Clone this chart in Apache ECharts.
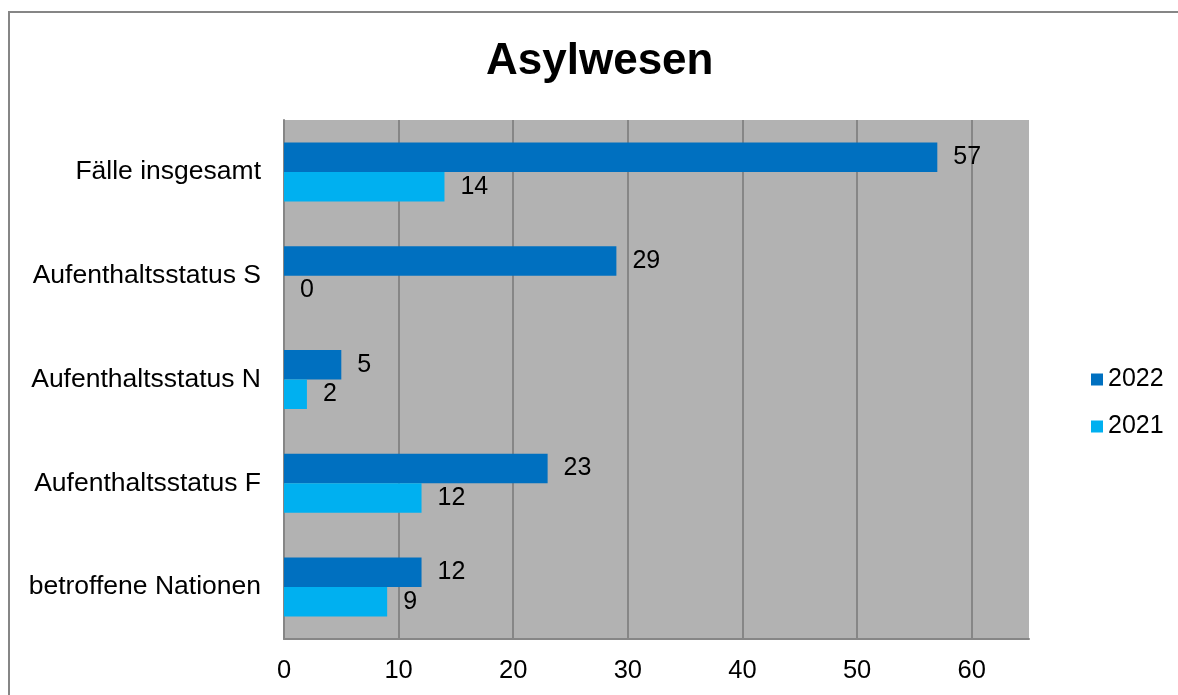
<!DOCTYPE html>
<html>
<head>
<meta charset="utf-8">
<script src="https://cdn.jsdelivr.net/npm/echarts@6/dist/echarts.min.js"></script>
<style>
  html, body { margin: 0; padding: 0; background: #fff; }
  #chart { width: 1178px; height: 695px; }
</style>
</head>
<body>
<div id="chart"></div>
<script>
// Categories, listed top to bottom
const categories = [
  'Fälle insgesamt',
  'Aufenthaltsstatus S',
  'Aufenthaltsstatus N',
  'Aufenthaltsstatus F',
  'betroffene Nationen'
];
const seriesNames = ['2022', '2021'];
const values2022 = [57, 29, 5, 23, 12];
const values2021 = [14, 0, 2, 12, 9];
const xTicks = { min: 0, max: 65, interval: 10 };

const FONT = '"Liberation Sans", Arial, sans-serif';
const colors = ['#0070c0', '#00b0f0'];

const chart = echarts.init(document.getElementById('chart'), null, { renderer: 'canvas' });

function barSeries(name, data, color) {
  return {
    name: name,
    type: 'bar',
    data: data,
    barWidth: 29.5,
    barGap: '0%',
    itemStyle: { color: color },
    label: {
      show: true,
      position: 'right',
      distance: 16,
      color: '#000',
      fontFamily: FONT,
      fontSize: 25
    },
    emphasis: { disabled: true },
    animation: false
  };
}

chart.setOption({
  animation: false,
  backgroundColor: '#fff',
  textStyle: { fontFamily: FONT },
  title: {
    text: 'Asylwesen',
    left: 481,
    top: 35,
    textStyle: { fontFamily: FONT, fontSize: 44, fontWeight: 'bold', color: '#000' }
  },
  graphic: [{
    type: 'rect',
    shape: { x: 9, y: 12, width: 1200, height: 720 },
    style: { fill: 'none', stroke: '#868686', lineWidth: 2 },
    silent: true,
    z: -1
  }],
  legend: {
    orient: 'vertical',
    left: 1086,
    top: 362,
    itemWidth: 12,
    itemHeight: 12,
    itemGap: 22,
    icon: 'rect',
    selectedMode: false,
    data: seriesNames,
    textStyle: { fontFamily: FONT, fontSize: 25, color: '#000', padding: [0, 0, 0, 0] }
  },
  grid: {
    left: 284,
    top: 120,
    right: 149,
    bottom: 56,
    show: true,
    backgroundColor: '#b2b2b2',
    borderWidth: 0,
    containLabel: false
  },
  xAxis: {
    type: 'value',
    min: xTicks.min,
    max: xTicks.max,
    interval: xTicks.interval,
    axisLine: { show: true, lineStyle: { color: '#868686', width: 2 } },
    axisTick: { show: false },
    axisLabel: {
      color: '#000',
      fontFamily: FONT,
      fontSize: 25.5,
      margin: 19,
      showMaxLabel: false
    },
    splitLine: {
      show: true,
      showMinLine: false,
      showMaxLine: false,
      lineStyle: { color: '#868686', width: 2 }
    }
  },
  yAxis: {
    type: 'category',
    inverse: true,
    data: categories,
    axisLine: { show: true, lineStyle: { color: '#868686', width: 2 } },
    axisTick: { show: false },
    axisLabel: { color: '#000', fontFamily: FONT, fontSize: 26.5, margin: 23 },
    splitLine: { show: false }
  },
  series: [
    barSeries(seriesNames[0], values2022, colors[0]),
    barSeries(seriesNames[1], values2021, colors[1])
  ]
});
</script>
</body>
</html>
